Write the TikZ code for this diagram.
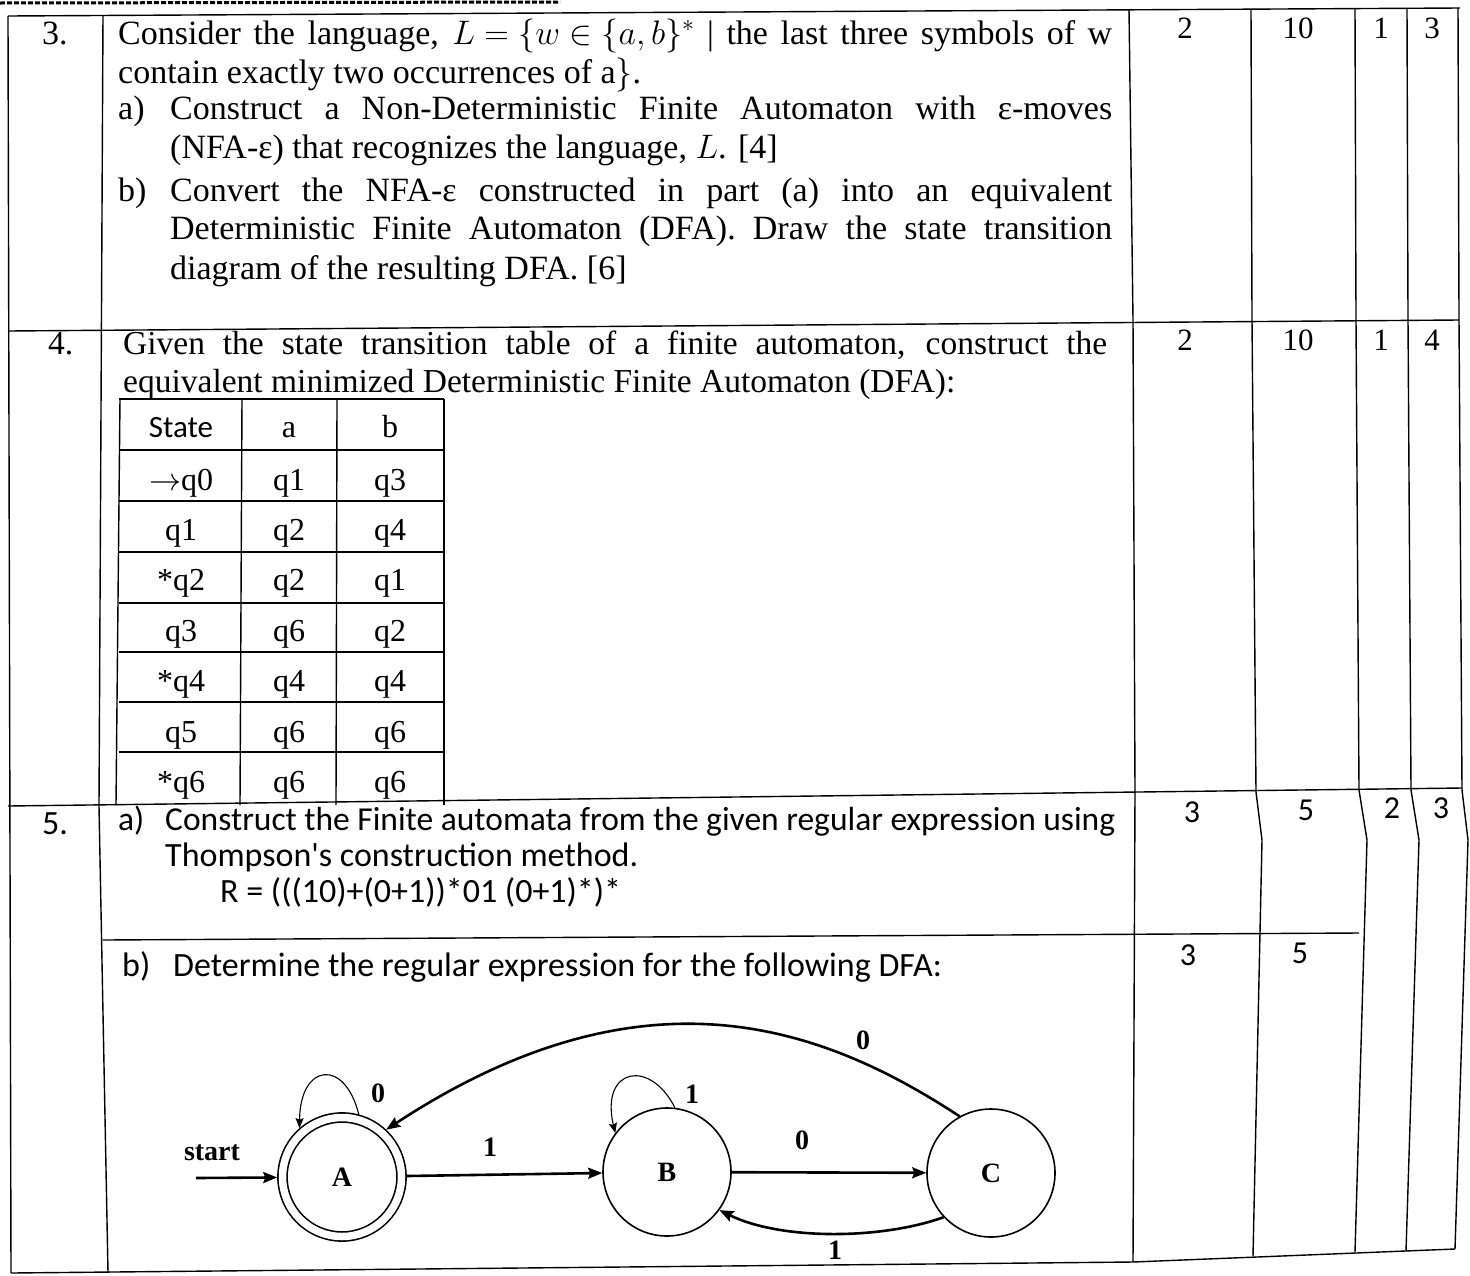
\documentclass[tikz,border=0pt]{standalone}
\usepackage{fix-cm}
\usepackage{fontspec}
\setmainfont{Liberation Serif}
\newfontfamily\calib{Carlito}
\usetikzlibrary{arrows.meta}

\newcommand{\jline}[2]{\makebox[#1][s]{\spaceskip=0.25em plus 1fil minus 0.15em #2}}

\tikzset{
    rule/.style={line width=1.4pt},
    txt/.style={anchor=base west, inner sep=0pt, font=\fontsize{34}{38}\selectfont},
    gtxt/.style={anchor=base west, inner sep=0pt, font=\fontsize{33.5}{38}\selectfont},
    caltxt/.style={anchor=base west, inner sep=0pt, font=\calib\fontsize{34}{38}\selectfont},
    num/.style={inner sep=0pt, font=\fontsize{31}{36}\selectfont},
    calnum/.style={inner sep=0pt, font=\calib\fontsize{32}{36}\selectfont},
    tcell/.style={anchor=base, inner sep=0pt, font=\fontsize{32}{36}\selectfont},
    dstate/.style={circle, draw, line width=1.6pt, minimum size=128pt, inner sep=0pt,
        font=\bfseries\fontsize{28}{32}\selectfont},
    trans/.style={-{Stealth[length=14pt,width=11pt,inset=2pt]}, line width=2.6pt},
    selfloop/.style={-{Stealth[length=10pt,width=8pt,inset=1.5pt]}, line width=1.1pt},
    lbl/.style={inner sep=0pt, font=\bfseries\fontsize{28}{32}\selectfont},
}

\begin{document}
\begin{tikzpicture}[x=1pt,y=-1pt]
    \useasboundingbox (0,0) rectangle (1470,1275);
    % \draw[help lines, gray] (0,0) grid[step=100] (1470,1275);

    % frame of the mark sheet
    \draw[line width=3pt, dash pattern=on 5pt off 2pt] (0,3) -- (560,2);
    \draw[rule] (8,16) -- (1460,8);
    \draw[rule] (8,16) -- (11,1273);
    \draw[rule] (103,15) -- (99,806) -- (108,1272);
    \draw[rule] (1129,9) -- (1133,320) -- (1135,792) -- (1133,1262);
    \draw[rule] (1251,9) -- (1252,320) -- (1256,792) -- (1262,840) -- (1253,1256);
    \draw[rule] (1355,9) -- (1356,320) -- (1359,790) -- (1367,840) -- (1355,1252);
    \draw[rule] (1407,9) -- (1408,320) -- (1411,790) -- (1419,840) -- (1406,1251);
    \draw[rule] (1458,8) -- (1459,320) -- (1462,790) -- (1468,840) -- (1455,1249);
    \draw[rule] (8,331) -- (1459,320);
    \draw[rule] (8,806) -- (1462,788);
    \draw[rule] (103,940) -- (1359,933);
    \draw[rule] (11,1273) -- (1133,1262) -- (1455,1249);

    % marks columns
    \node[num] (m3a) at (1185,28) {2};
    \node[num] (m3b) at (1298,28) {10};
    \node[num] (m3c) at (1381,28) {1};
    \node[num] (m3d) at (1432,28) {3};
    \node[num] (m4a) at (1185,340) {2};
    \node[num] (m4b) at (1298,340) {10};
    \node[num] (m4c) at (1381,340) {1};
    \node[num] (m4d) at (1432,340) {4};
    \node[calnum] (m5a) at (1192,812) {3};
    \node[calnum] (m5b) at (1306,810) {5};
    \node[calnum] (m5c) at (1392,808) {2};
    \node[calnum] (m5d) at (1441,808) {3};
    \node[calnum] (m5e) at (1188,955) {3};
    \node[calnum] (m5f) at (1300,953) {5};

    % question 3
    \node[txt] (q3num) at (42,44) {3.};
    \node[txt] (q3l1) at (118,44) {\jline{994pt}{Consider the language, $L=\{w\in\{a,b\}^{*}$ | the last three symbols of w}};
    \node[txt] (q3l2) at (118,83) {contain exactly two occurrences of a$\}$.};
    \node[txt] (q3a) at (118,119) {a)};
    \node[txt] (q3l3) at (170,119) {\jline{942pt}{Construct a Non-Deterministic Finite Automaton with ε-moves}};
    \node[txt] (q3l4) at (170,158) {(NFA-ε) that recognizes the language, $L$. [4]};
    \node[txt] (q3b) at (118,201) {b)};
    \node[txt] (q3l5) at (170,201) {\jline{942pt}{Convert the NFA-ε constructed in part (a) into an equivalent}};
    \node[txt] (q3l6) at (170,239) {\jline{942pt}{Deterministic Finite Automaton (DFA). Draw the state transition}};
    \node[txt] (q3l7) at (170,279) {diagram of the resulting DFA. [6]};

    % question 4
    \node[gtxt] (q4num) at (48,354) {4.};
    \node[gtxt] (q4l1) at (123,354) {\jline{984pt}{Given the state transition table of a finite automaton, construct the}};
    \node[gtxt] (q4l2) at (123,392) {equivalent minimized Deterministic Finite Automaton (DFA):};

    % transition table
    \foreach \y in {399,450,501,552,603,652,702,752}
        \draw[rule] (119,\y) -- (444,\y);
    \draw[rule] (120,399) -- (116,805);
    \draw[rule] (242,399) -- (240,805);
    \draw[rule] (337,399) -- (336,805);
    \draw[rule] (444,399) -- (444,805);
    \node[tcell, font=\calib\fontsize{31}{36}\selectfont] (hstate) at (181,437) {State};
    \node[tcell] (ha) at (289,437) {a};
    \node[tcell] (hb) at (390,437) {b};
    \foreach \s/\a/\b [count=\i] in {{$\rightarrow$q0}/q1/q3, q1/q2/q4, *q2/q2/q1, q3/q6/q2, *q4/q4/q4, q5/q6/q6, *q6/q6/q6} {
        \node[tcell] (cs\i) at (181,{439.6+50.4*\i}) {\s};
        \node[tcell] (ca\i) at (289,{439.6+50.4*\i}) {\a};
        \node[tcell] (cb\i) at (390,{439.6+50.4*\i}) {\b};
    }

    % question 5
    \node[caltxt] (q5num) at (42,834) {5.};
    \node[caltxt, font=\calib\fontsize{33.5}{38}\selectfont] (q5a) at (118,830) {a)};
    \node[caltxt, font=\calib\fontsize{33.5}{38}\selectfont] (q5l1) at (165,830) {\jline{950pt}{Construct the Finite automata from the given regular expression using}};
    \node[caltxt] (q5l2) at (165,866) {Thompson\textquotesingle s construction method.};
    \node[caltxt] (q5l3) at (220,902) {R = (((10)+(0+1))*01 (0+1)*)*};
    \node[caltxt] (q5b) at (122,976) {b)};
    \node[caltxt] (q5l4) at (173,976) {Determine the regular expression for the following DFA:};

    % the DFA
    \node[dstate, double, double distance=7.5pt, minimum size=119pt, outer sep=5.25pt] (A) at (342,1177) {A};
    \node[dstate] (B) at (667,1172) {B};
    \node[dstate] (C) at (991,1173) {C};
    \node[lbl] (startlbl) at (212,1153) {start};
    \coordinate (startin) at (196,1178);

    \draw[trans] (startin) -- (A);
    \draw[trans] (A) -- (B);
    \draw[trans] (B) -- (C);
    \draw[trans] (C.223) .. controls (880,1240) and (780,1240) .. (B.324);
    \draw[trans] (C.119) .. controls (825,1028) and (646,959) .. (A.47);
    \draw[selfloop] (A.75) .. controls (345,1058) and (300,1063) .. (A.131);
    \draw[selfloop] (B.83) .. controls (650,1058) and (600,1068) .. (B.143);

    \node[lbl] (l0A) at (378,1093) {0};
    \node[lbl] (l1AB) at (490,1147) {1};
    \node[lbl] (l1B) at (692,1094) {1};
    \node[lbl] (l0BC) at (802,1140) {0};
    \node[lbl] (l1CB) at (835,1250) {1};
    \node[lbl] (l0CA) at (863,1040) {0};
\end{tikzpicture}
\end{document}
